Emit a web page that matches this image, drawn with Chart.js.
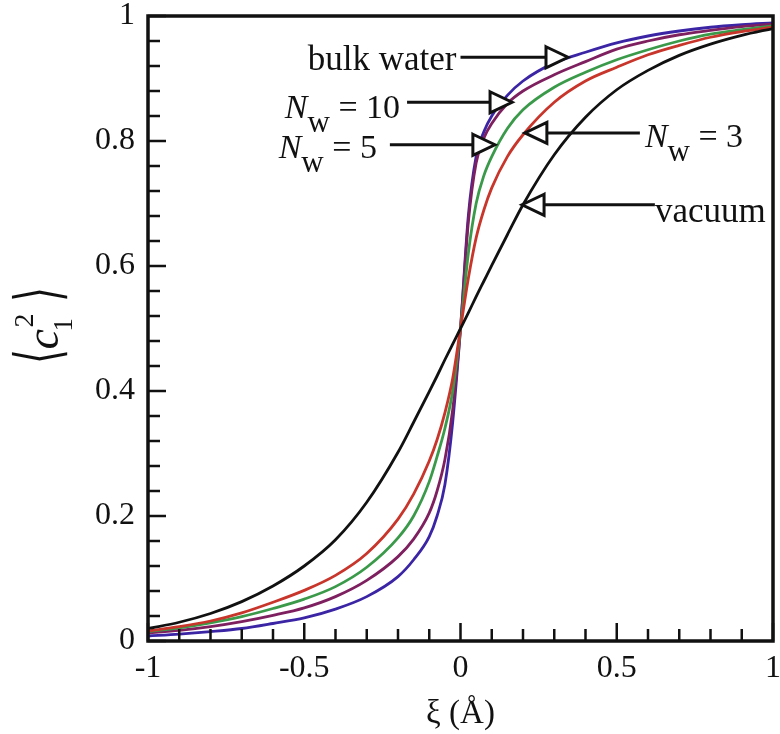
<!DOCTYPE html>
<html>
<head>
<meta charset="utf-8">
<script src="https://cdn.jsdelivr.net/npm/chart.js@4.4.1/dist/chart.umd.min.js"></script>
<style>
  html, body { margin: 0; padding: 0; background: #fff; }
  #wrap { width: 780px; height: 734px; }
</style>
</head>
<body>
<div id="wrap"><canvas id="c1" width="780" height="734"></canvas></div>
<script>
// xi in Angstrom
const xi = [-1, -0.9, -0.8, -0.7, -0.6, -0.5, -0.4, -0.3, -0.2, -0.15, -0.1, -0.075, -0.05, -0.025,
            0, 0.025, 0.05, 0.075, 0.1, 0.15, 0.2, 0.3, 0.4, 0.5, 0.6, 0.7, 0.8, 0.9, 1];

const vacuum = [0.020, 0.030, 0.044, 0.063, 0.088, 0.120, 0.162, 0.222, 0.302, 0.350, 0.399, 0.424, 0.450, 0.475,
                0.500, 0.525, 0.551, 0.576, 0.601, 0.650, 0.698, 0.778, 0.838, 0.882, 0.913, 0.937, 0.955, 0.969, 0.980];
const nw3 = [0.016, 0.023, 0.032, 0.045, 0.062, 0.081, 0.105, 0.140, 0.195, 0.235, 0.288, 0.322, 0.365, 0.420,
             0.500, 0.580, 0.645, 0.690, 0.725, 0.775, 0.810, 0.862, 0.896, 0.918, 0.938, 0.953, 0.966, 0.975, 0.982];
const nw5 = [0.015, 0.021, 0.029, 0.039, 0.052, 0.067, 0.087, 0.118, 0.165, 0.200, 0.255, 0.295, 0.340, 0.400,
             0.500, 0.620, 0.700, 0.745, 0.775, 0.820, 0.850, 0.886, 0.910, 0.930, 0.946, 0.960, 0.971, 0.978, 0.984];
const nw10 = [0.013, 0.017, 0.023, 0.031, 0.041, 0.053, 0.071, 0.097, 0.135, 0.163, 0.205, 0.240, 0.290, 0.370,
              0.500, 0.670, 0.765, 0.805, 0.828, 0.860, 0.880, 0.906, 0.927, 0.947, 0.960, 0.970, 0.977, 0.983, 0.987];
const bulk = [0.008, 0.011, 0.015, 0.020, 0.028, 0.037, 0.051, 0.071, 0.103, 0.130, 0.167, 0.200, 0.250, 0.350,
              0.500, 0.680, 0.775, 0.815, 0.840, 0.873, 0.896, 0.925, 0.942, 0.957, 0.968, 0.976, 0.982, 0.986, 0.989];

const xTicks = [-1, -0.5, 0, 0.5, 1];
const yTicks = [0, 0.2, 0.4, 0.6, 0.8, 1];

// arrow labels: tip (data), tail x (data)
const notes = [
  { text: 'bulk water', tip: [0.344, 0.934], tail: 0.0 },
  { nw: '10', tip: [0.165, 0.862], tail: -0.171 },
  { nw: '5', tip: [0.110, 0.794], tail: -0.226 },
  { nw: '3', tip: [0.206, 0.813], tail: 0.574 },
  { text: 'vacuum', tip: [0.197, 0.698], tail: 0.622 }
];

const serif = "'Liberation Serif', 'Times New Roman', serif";
Chart.defaults.font.family = serif;
Chart.defaults.font.size = 32;
Chart.defaults.color = '#111';

const pts = arr => arr.map((v, i) => ({ x: xi[i], y: v }));

const frameTicks = {
  id: 'frameTicks',
  afterDatasetsDraw(chart) {
    const { ctx, chartArea: a, scales: { x, y } } = chart;
    ctx.save();
    ctx.strokeStyle = '#111';
    ctx.lineWidth = 2.5;
    ctx.beginPath();
    for (let i = 0; i <= 20; i++) {
      const px = x.getPixelForValue(-1 + i * 0.1);
      const len = i % 5 === 0 ? 18 : 12;
      ctx.moveTo(px, a.bottom);
      ctx.lineTo(px, a.bottom - len);
    }
    for (let i = 0; i <= 25; i++) {
      const py = y.getPixelForValue(i * 0.04);
      const len = i % 5 === 0 ? 18 : 12;
      ctx.moveTo(a.left, py);
      ctx.lineTo(a.left + len, py);
    }
    ctx.stroke();
    ctx.lineWidth = 3.5;
    ctx.strokeRect(a.left, a.top, a.right - a.left, a.bottom - a.top);
    ctx.restore();
  }
};

function drawNw(ctx, n, x0, base, alignRight) {
  const fN = 'italic 34px ' + serif, fW = '31px ' + serif, fR = '34px ' + serif;
  const rest = ' = ' + n;
  ctx.font = fN; const wN = ctx.measureText('N').width;
  ctx.font = fW; const wW = ctx.measureText('w').width;
  ctx.font = fR; const wR = ctx.measureText(rest).width;
  let x = alignRight ? x0 - (wN + wW + wR) : x0;
  ctx.textAlign = 'left';
  ctx.font = fN; ctx.fillText('N', x, base); x += wN;
  ctx.font = fW; ctx.fillText('w', x, base + 14); x += wW;
  ctx.font = fR; ctx.fillText(rest, x, base);
}

const annots = {
  id: 'annots',
  afterDraw(chart) {
    const { ctx, scales: { x, y } } = chart;
    ctx.save();
    ctx.fillStyle = '#111';
    ctx.strokeStyle = '#111';
    ctx.textBaseline = 'alphabetic';
    notes.forEach(n => {
      const tx = x.getPixelForValue(n.tip[0]);
      const ty = y.getPixelForValue(n.tip[1]);
      const lx = x.getPixelForValue(n.tail);
      const dir = tx > lx ? 1 : -1;
      const bx = tx - dir * 22;
      ctx.lineWidth = 3;
      ctx.beginPath();
      ctx.moveTo(lx, ty);
      ctx.lineTo(bx, ty);
      ctx.stroke();
      ctx.beginPath();
      ctx.moveTo(bx, ty - 10.5);
      ctx.lineTo(tx, ty);
      ctx.lineTo(bx, ty + 10.5);
      ctx.closePath();
      ctx.fillStyle = '#fff';
      ctx.fill();
      ctx.lineJoin = 'miter';
      ctx.stroke();
      ctx.fillStyle = '#111';
      if (n.text) {
        ctx.font = '35px ' + serif;
        if (dir > 0) { ctx.textAlign = 'right'; ctx.fillText(n.text, lx - 4, ty + 13); }
        else { ctx.textAlign = 'left'; ctx.fillText(n.text, lx, ty + 17); }
      } else {
        if (dir > 0) drawNw(ctx, n.nw, lx - (n.nw === '10' ? 7 : 13), ty + (n.nw === '10' ? 16 : 13), true);
        else drawNw(ctx, n.nw, lx + 5, ty + 14, false);
      }
    });

    // x axis title
    ctx.font = '33px ' + serif;
    ctx.textAlign = 'center';
    ctx.textBaseline = 'middle';
    ctx.fillText('\u03BE (\u00C5)', (x.left + x.right) / 2, 714);

    // y axis title <c_1^2>, rotated
    const cy = (y.top + y.bottom) / 2;
    ctx.translate(43, cy);
    ctx.rotate(-Math.PI / 2);
    ctx.textBaseline = 'alphabetic';
    ctx.textAlign = 'left';
    ctx.font = 'italic 46px ' + serif;
    ctx.fillText('c', -21, 15);
    ctx.font = '28px ' + serif;
    ctx.fillText('2', 1, -10);
    ctx.font = '27px ' + serif;
    ctx.fillText('1', -3, 29);
    ctx.font = "62px 'DejaVu Sans', sans-serif";
    ctx.textBaseline = 'middle';
    ctx.textAlign = 'center';
    ctx.save(); ctx.translate(-28, 0); ctx.scale(0.6, 1); ctx.fillText('\u27E8', 0, 0); ctx.restore();
    ctx.save(); ctx.translate(34, 0); ctx.scale(0.6, 1); ctx.fillText('\u27E9', 0, 0); ctx.restore();
    ctx.restore();
  }
};

const mk = (label, data, color) => ({
  label, data: pts(data), borderColor: color, borderWidth: 2.8,
  pointRadius: 0, fill: false, cubicInterpolationMode: 'monotone'
});

new Chart(document.getElementById('c1'), {
  type: 'line',
  data: {
    datasets: [
      mk('vacuum', vacuum, '#111111'),
      mk('Nw = 3', nw3, '#c8352b'),
      mk('Nw = 5', nw5, '#3a9a4a'),
      mk('Nw = 10', nw10, '#7e2060'),
      mk('bulk water', bulk, '#3b25a5')
    ]
  },
  options: {
    responsive: false,
    animation: false,
    layout: { padding: { top: 16, right: 7, left: 0, bottom: 0 } },
    plugins: { legend: { display: false }, tooltip: { enabled: false } },
    scales: {
      x: {
        type: 'linear', min: -1, max: 1,
        grid: { display: false, drawTicks: false }, border: { display: false },
        afterBuildTicks: s => { s.ticks = xTicks.map(v => ({ value: v })); },
        afterFit: s => { s.height = 93; s.paddingLeft = 0; s.paddingRight = 0; },
        ticks: { padding: 8, maxRotation: 0, autoSkip: false, callback: v => String(v) }
      },
      y: {
        min: 0, max: 1,
        grid: { display: false, drawTicks: false }, border: { display: false },
        afterBuildTicks: s => { s.ticks = yTicks.map(v => ({ value: v })); },
        afterFit: s => { s.width = 148; s.paddingTop = 0; s.paddingBottom = 0; },
        ticks: { padding: 13, callback: v => String(v) }
      }
    }
  },
  plugins: [frameTicks, annots]
});
</script>
</body>
</html>
